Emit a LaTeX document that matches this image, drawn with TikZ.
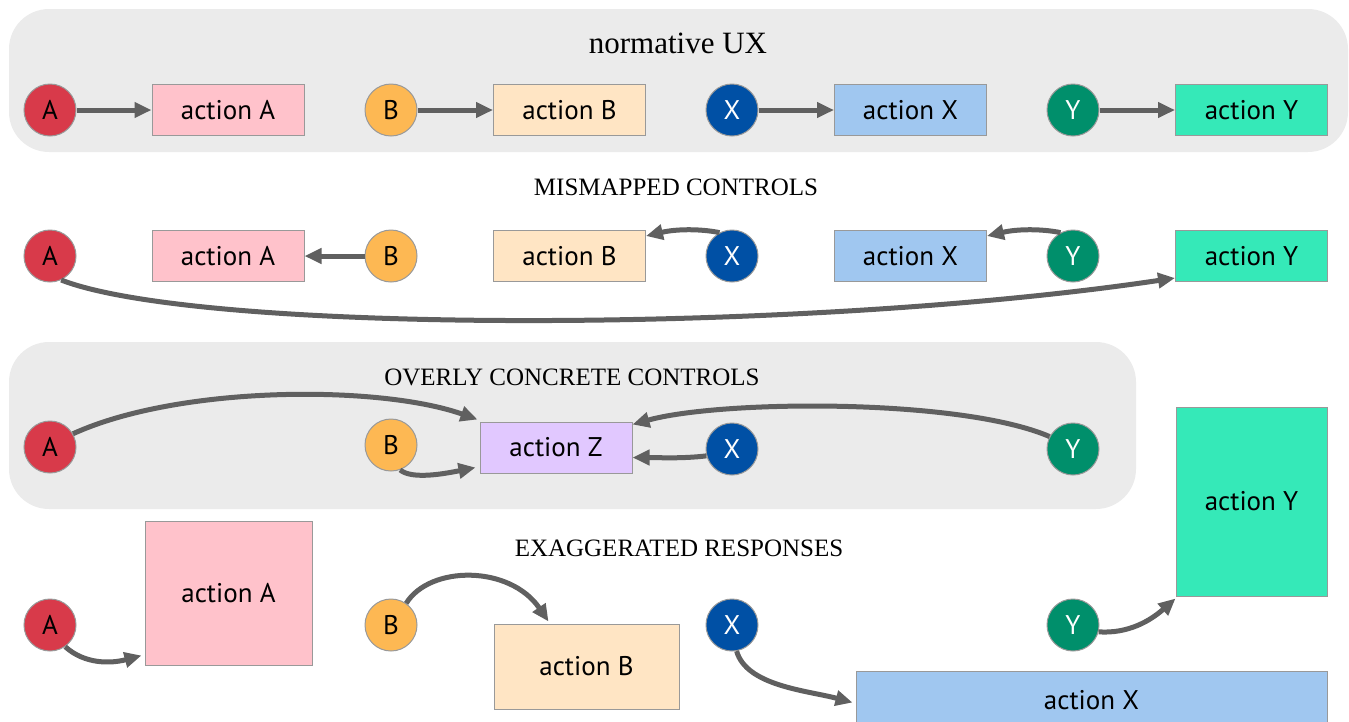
\documentclass[tikz,border=0pt]{standalone}
\usepackage{fontspec}
\setmainfont{Liberation Serif}
\newfontfamily\labelfont{PT Sans}
\usetikzlibrary{arrows.meta}

\definecolor{panelgray}{HTML}{EBEBEB}
\definecolor{edgegray}{HTML}{999999}
\definecolor{linkgray}{HTML}{606060}
\definecolor{keyA}{HTML}{D83A4A}
\definecolor{keyB}{HTML}{FDB853}
\definecolor{keyX}{HTML}{0050A5}
\definecolor{keyY}{HTML}{008F6B}
\definecolor{actA}{HTML}{FFC2CB}
\definecolor{actB}{HTML}{FFE5C4}
\definecolor{actX}{HTML}{A0C7F0}
\definecolor{actY}{HTML}{35E9B8}
\definecolor{actZ}{HTML}{E1C8FF}

\tikzset{
  panel/.style={fill=panelgray, draw=none, rounded corners=40pt},
  heading/.style={font=\fontsize{25}{28}\selectfont, inner sep=0pt},
  key/.style={circle, draw=edgegray, line width=1pt, minimum size=52pt, inner sep=0pt,
    font=\labelfont\fontsize{27}{30}\selectfont},
  keyA/.style={key, fill=keyA, text=black},
  keyB/.style={key, fill=keyB, text=black},
  keyX/.style={key, fill=keyX, text=white},
  keyY/.style={key, fill=keyY, text=white},
  act/.style={rectangle, draw=edgegray, line width=1pt, inner sep=0pt,
    minimum width=152pt, minimum height=51pt,
    font=\labelfont\fontsize{27}{30}\selectfont, text=black},
  link/.style={draw=linkgray, line width=5pt,
    -{Triangle[length=17pt,width=15pt]}}
}

\begin{document}
\begin{tikzpicture}[x=1pt,y=1pt]
\useasboundingbox (0,0) rectangle (1349,-721);

% backgrounds of the first and third bands
\fill[panel] (9,-9) rectangle (1348,-152);
\fill[panel] (9,-342) rectangle (1136,-509);

% band 1: normative UX
\node[heading, font=\fontsize{31}{34}\selectfont] (t1) at (678,-43) {normative UX};
\node[keyA] (A1) at (50,-110) {A};
\node[keyB] (B1) at (391,-110) {B};
\node[keyX] (X1) at (732,-110) {X};
\node[keyY] (Y1) at (1073,-110) {Y};
\node[act, fill=actA] (aA1) at (228,-110) {action A};
\node[act, fill=actB] (aB1) at (569.5,-110) {action B};
\node[act, fill=actX] (aX1) at (910.5,-110) {action X};
\node[act, fill=actY] (aY1) at (1251.5,-110) {action Y};
\draw[link] (A1) -- (aA1);
\draw[link] (B1) -- (aB1);
\draw[link] (X1) -- (aX1);
\draw[link] (Y1) -- (aY1);

% band 2: mismapped controls
\node[heading] (t2) at (676,-187) {MISMAPPED CONTROLS};
\node[keyA] (A2) at (50,-256) {A};
\node[keyB] (B2) at (391,-256) {B};
\node[keyX] (X2) at (732,-256) {X};
\node[keyY] (Y2) at (1073,-256) {Y};
\node[act, fill=actA] (aA2) at (228,-256) {action A};
\node[act, fill=actB] (aB2) at (569.5,-256) {action B};
\node[act, fill=actX] (aX2) at (910.5,-256) {action X};
\node[act, fill=actY] (aY2) at (1251.5,-256) {action Y};
\draw[link] (B2) -- (aB2.east -| aA2.east);
\draw[link] (X2.118) .. controls +(-20,4) and +(30,7) .. ([yshift=-6pt]aB2.north east);
\draw[link] (Y2.118) .. controls +(-20,4) and +(30,7) .. ([yshift=-6pt]aX2.north east);
\draw[link] (A2.-65) .. controls (200,-334) and (800,-334) .. ([yshift=4pt]aY2.south west);

% band 3: overly concrete controls
\node[heading] (t3) at (572,-377) {OVERLY CONCRETE CONTROLS};
\node[keyA] (A3) at (50,-447) {A};
\node[keyB] (B3) at (391,-445) {B};
\node[keyX] (X3) at (732,-449) {X};
\node[keyY] (Y3) at (1073,-449) {Y};
\node[act, fill=actZ] (aZ) at (556,-447.5) {action Z};
\draw[link] (A3.30) .. controls (180,-385) and (380,-385) .. ([xshift=-2pt,yshift=2pt]aZ.north west);
\draw[link] (B3.-70) .. controls +(12,-10) and +(-30,-6) .. ([xshift=-4pt,yshift=6pt]aZ.south west);
\draw[link] (X3.195) .. controls +(-25,-3) and +(25,0) .. ([yshift=-10pt]aZ.east);
\draw[link] (Y3.152) .. controls (960,-398) and (720,-400) .. ([yshift=-3pt]aZ.north east);

% band 4: exaggerated responses
\node[heading] (t4) at (679,-548) {EXAGGERATED RESPONSES};
\node[keyA] (A4) at (50,-625) {A};
\node[keyB] (B4) at (391,-625) {B};
\node[keyX] (X4) at (732,-625) {X};
\node[keyY] (Y4) at (1073,-625) {Y};
\node[act, fill=actA, minimum width=167pt, minimum height=144pt] (aA4) at (228.5,-593) {action A};
\node[act, fill=actB, minimum width=185pt, minimum height=85pt] (aB4) at (586.5,-666.5) {action B};
\node[act, fill=actX, minimum width=471pt, minimum height=58pt] (aX4) at (1091.5,-700) {action X};
\node[act, fill=actY, minimum width=151pt, minimum height=189pt] (aY4) at (1251.5,-501.5) {action Y};
\draw[link] (A4.-55) .. controls +(20,-18) and +(-30,-8) .. ([xshift=-3pt,yshift=10pt]aA4.south west);
\draw[link] (B4.55) .. controls (430,-565) and (510,-565) .. ([xshift=-38pt,yshift=2pt]aB4.north);
\draw[link] (X4.-80) .. controls +(10,-35) and +(-45,12) .. ([xshift=-3pt,yshift=-32pt]aX4.north west);
\draw[link] (Y4.-15) .. controls +(30,-2) and +(-25,-22) .. ([yshift=-2pt]aY4.south west);
\end{tikzpicture}
\end{document}
